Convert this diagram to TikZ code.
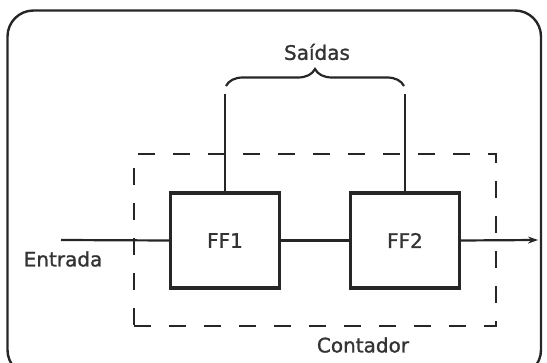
\documentclass[tikz,border=0pt]{standalone}
\usepackage{fontspec}
\setmainfont[FakeBold=1.2]{DejaVu Sans}
\usetikzlibrary{arrows.meta,decorations.pathreplacing}
\begin{document}
\begin{tikzpicture}[x=1pt,y=-1pt,
  lbl/.style={font=\fontsize{20}{24}\selectfont, text=black!80, inner sep=0pt},
  ffbox/.style={draw=black!85, line width=3.4pt, minimum width=109pt, minimum height=95pt, inner sep=0pt, font=\fontsize{20}{24}\selectfont, text=black!80},
  wire/.style={draw=black!85, line width=2.2pt},
  dashbox/.style={draw=black!85, line width=2.2pt, dash pattern=on 17pt off 18pt, minimum width=362pt, minimum height=172pt, inner sep=0pt}]
\useasboundingbox (0,0) rectangle (547,363);
\clip (0,0) rectangle (547,363);
\draw[line width=2.4pt, black!85, rounded corners=26pt] (7.5,10.5) rectangle (541,376);
\node[dashbox] (cnt) at (314.75,240) {};
\node[ffbox] (ff1) at (225,240.5) {FF1};
\node[ffbox] (ff2) at (405,240.5) {FF2};
\coordinate (in) at (61,240);
\coordinate (out) at (538,240);
\coordinate (s1) at (225,94);
\coordinate (s2) at (405,94);
\draw[wire] (in) -- (ff1.west);
\draw[wire] (ff1.east) -- (ff2.west);
\draw[wire, -{Stealth[length=10pt,width=7pt]}] (ff2.east) -- (out);
\draw[wire] (ff1.north) -- (s1);
\draw[wire] (ff2.north) -- (s2);
\draw[wire, decorate, decoration={brace, amplitude=17pt}] (226,86) -- (404,86);
\node[lbl] (sai) at (317,52) {Saídas};
\node[lbl] (ent) at (63,259) {Entrada};
\node[lbl] (con) at (363,345) {Contador};
\end{tikzpicture}
\end{document}
